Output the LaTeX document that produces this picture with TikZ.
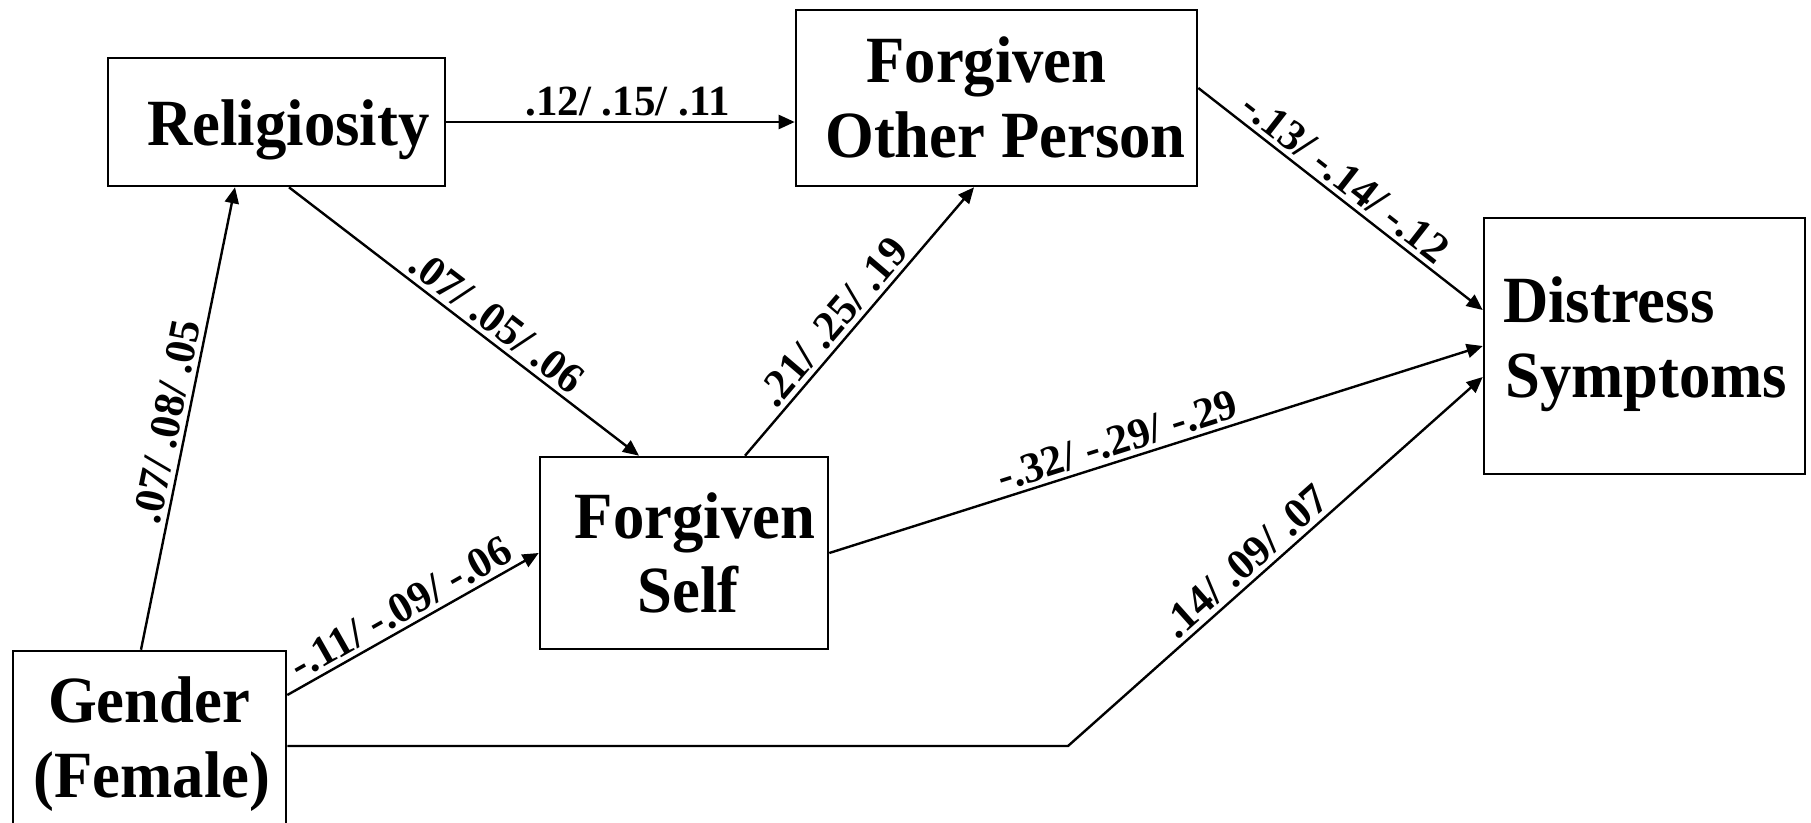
\documentclass[tikz,border=0pt]{standalone}
\usepackage{fontspec}
\setmainfont{Liberation Serif}
\newfontfamily\boxfont[FakeStretch=0.95]{Liberation Serif}
\usetikzlibrary{arrows.meta}
\begin{document}
\begin{tikzpicture}[x=1pt,y=-1pt,
  boxst/.style={draw, line width=2.6pt, inner sep=0pt},
  nodetext/.style={inner sep=0pt, anchor=base, font=\boxfont\bfseries\fontsize{66}{75}\selectfont},
  lbl/.style={font=\bfseries\fontsize{43}{47}\selectfont, inner xsep=0pt, inner ysep=5pt, text depth=0pt, sloped, above},
  conn/.style={line width=2.4pt, -{Triangle[length=16pt,width=14pt]}}
]
\clip (0,0) rectangle (1811,822);
\fill[white] (0,0) rectangle (1811,822);

% boxes
\node[boxst, minimum width=337pt, minimum height=128pt] (rel) at (276.5,122) {};
\node[boxst, minimum width=401pt, minimum height=176pt] (fop) at (996.5,98) {};
\node[boxst, minimum width=321pt, minimum height=256pt] (dist) at (1644.5,346) {};
\node[boxst, minimum width=288pt, minimum height=192pt] (fs) at (684,553) {};
\node[boxst, minimum width=273pt, minimum height=190pt] (gen) at (149.5,746) {};

% texts
\node[nodetext] (reltxt) at (288.5,145) {Religiosity};
\node[nodetext] (foptxta) at (986.5,82) {Forgiven};
\node[nodetext] (foptxtb) at (1005.5,157) {Other Person};
\node[nodetext, anchor=base west] (disttxta) at (1503,322) {Distress};
\node[nodetext, anchor=base west] (disttxtb) at (1505,397) {Symptoms};
\node[nodetext] (fstxta) at (695,538) {Forgiven};
\node[nodetext] (fstxtb) at (688,612) {Self};
\node[nodetext] (gentxta) at (149,722) {Gender};
\node[nodetext] (gentxtb) at (152,797) {(Female)};

% connectors
\draw[conn] (rel.east) -- node[lbl, pos=0.52] {.12/ .15/ .11} (rel.east -| fop.west);
\draw[conn] ([xshift=-8.5pt]gen.north) -- node[lbl, pos=0.485] {.07/ .08/ .05} ([xshift=-41.5pt]rel.south);
\draw[conn] ([xshift=12.5pt]rel.south) -- node[lbl, pos=0.56] {.07/ .05/ .06} ([xshift=-45pt]fs.north);
\draw[conn] ([yshift=51pt]gen.east) -- node[lbl, pos=0.49] {-.11/ -.09/ -.06} (fs.west);
\draw[conn] ([xshift=61pt]fs.north) -- node[lbl, pos=0.45] {.21/ .25/ .19} ([xshift=-22.5pt]fop.south);
\draw[conn] ([yshift=10pt]fop.east) -- node[lbl, pos=0.475] {-.13/ -.14/ -.12} ([yshift=36pt]dist.west);
\draw[conn] (fs.east) -- node[lbl, pos=0.45] {-.32/ -.29/ -.29} (dist.west);
\coordinate (bend) at (1068,746);
\draw[conn] (gen.east) -- (bend) -- node[lbl, pos=0.46] {.14/ .09/ .07} ([yshift=-31pt]dist.west);
\end{tikzpicture}
\end{document}
